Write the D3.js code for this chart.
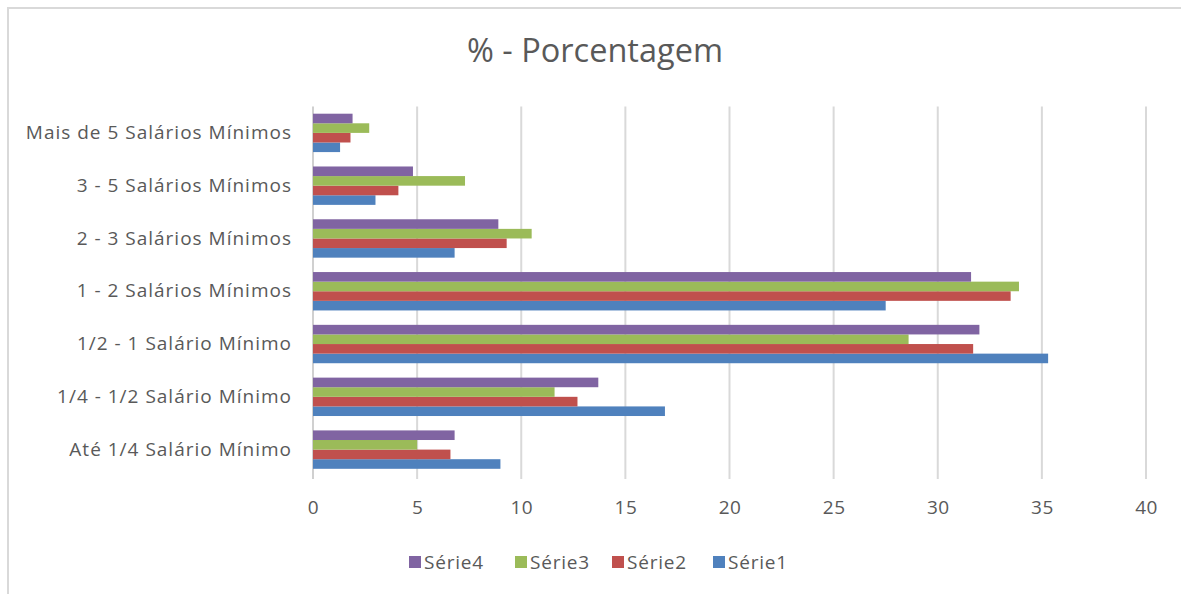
<!DOCTYPE html>
<html>
<head>
<meta charset="utf-8">
<script src="https://cdn.jsdelivr.net/npm/d3@7"></script>
<style>
  html, body { margin: 0; padding: 0; background: #fff; }
  svg { display: block; }
  text { font-family: "Open Sans", Lato, sans-serif; }
</style>
</head>
<body>
<svg id="chart" width="1181" height="594"></svg>
<script>
// Categories, bottom to top as in the source chart
const categories = [
  "Até 1/4 Salário Mínimo",
  "1/4 - 1/2 Salário Mínimo",
  "1/2 - 1 Salário Mínimo",
  "1 - 2 Salários Mínimos",
  "2 - 3 Salários Mínimos",
  "3 - 5 Salários Mínimos",
  "Mais de 5 Salários Mínimos"
];
const serie1 = [9.0, 16.9, 35.3, 27.5, 6.8, 3.0, 1.3];
const serie2 = [6.6, 12.7, 31.7, 33.5, 9.3, 4.1, 1.8];
const serie3 = [5.0, 11.6, 28.6, 33.9, 10.5, 7.3, 2.7];
const serie4 = [6.8, 13.7, 32.0, 31.6, 8.9, 4.8, 1.9];
const seriesNames = ["Série1", "Série2", "Série3", "Série4"];
const seriesColors = ["#4F81BD", "#C0504D", "#9BBB59", "#8064A2"];
const xTicks = [0, 5, 10, 15, 20, 25, 30, 35, 40];
const title = "% - Porcentagem";

const series = [serie1, serie2, serie3, serie4].map((vals, i) => ({
  name: seriesNames[i], color: seriesColors[i], values: vals
}));

const svg = d3.select("#chart");
const FONT = "'Open Sans', Lato, sans-serif";

// chart frame (top and left border visible)
svg.append("rect").attr("x", 8).attr("y", 8).attr("width", 1200).attr("height", 600)
  .attr("fill", "none").attr("stroke", "#d9d9d9").attr("stroke-width", 2);

const pLeft = 313, pRight = 1146, pTop = 106.5, pBottom = 476;

const x = d3.scaleLinear().domain([0, 40]).range([pLeft, pRight]);
const y0 = d3.scaleBand()
  .domain(categories.slice().reverse())
  .range([pTop, pBottom])
  .paddingInner(1.5 / 5.5)
  .paddingOuter(0.75 / 5.5);
const y1 = d3.scaleBand()
  .domain(["Série4", "Série3", "Série2", "Série1"])
  .range([0, y0.bandwidth()]);

// gridlines
svg.append("g").selectAll("line").data(xTicks.slice(1)).join("line")
  .attr("x1", d => x(d)).attr("x2", d => x(d))
  .attr("y1", pTop).attr("y2", pBottom + 3)
  .attr("stroke", "#d9d9d9").attr("stroke-width", 2);

// vertical axis line
svg.append("line").attr("x1", x(0)).attr("x2", x(0)).attr("y1", pTop).attr("y2", pBottom + 3)
  .attr("stroke", "#d0d0d0").attr("stroke-width", 2);

// bars
const groups = svg.append("g").selectAll("g").data(categories).join("g")
  .attr("transform", d => `translate(0,${y0(d)})`);
groups.selectAll("rect")
  .data((c, ci) => series.map(s => ({ name: s.name, color: s.color, v: s.values[ci] })))
  .join("rect")
  .attr("x", x(0))
  .attr("y", d => y1(d.name))
  .attr("width", d => x(d.v) - x(0))
  .attr("height", y1.bandwidth())
  .attr("fill", d => d.color);

// x axis labels
const xAxis = d3.axisBottom(x).tickValues(xTicks).tickSize(0).tickPadding(0);
const xg = svg.append("g").attr("transform", `translate(0,${pBottom + 24})`).call(xAxis);
xg.select(".domain").remove();
xg.selectAll("text").attr("fill", "#595959").attr("font-size", 19)
  .style("font-family", FONT).style("letter-spacing", "0.5px");

// y axis labels
const yAxis = d3.axisLeft(y0).tickSize(0).tickPadding(21);
const yg = svg.append("g").attr("transform", `translate(${x(0)},0)`).call(yAxis);
yg.select(".domain").remove();
yg.selectAll("text").attr("fill", "#595959").attr("font-size", 19)
  .style("font-family", FONT).style("letter-spacing", "1px");

// title
svg.append("text").attr("x", 595).attr("y", 62).attr("text-anchor", "middle")
  .attr("font-size", 32.5).attr("fill", "#595959").text(title);

// legend
const legendItems = ["Série4", "Série3", "Série2", "Série1"];
const legendX = [409, 515, 612, 713];
const lg = svg.append("g").selectAll("g").data(legendItems).join("g")
  .attr("transform", (d, i) => `translate(${legendX[i]},556)`);
lg.append("rect").attr("width", 12).attr("height", 12)
  .attr("fill", d => seriesColors[seriesNames.indexOf(d)]);
lg.append("text").attr("x", 15).attr("y", 12.5).attr("font-size", 19)
  .style("letter-spacing", "0.8px")
  .attr("fill", "#595959").text(d => d);
</script>
</body>
</html>
